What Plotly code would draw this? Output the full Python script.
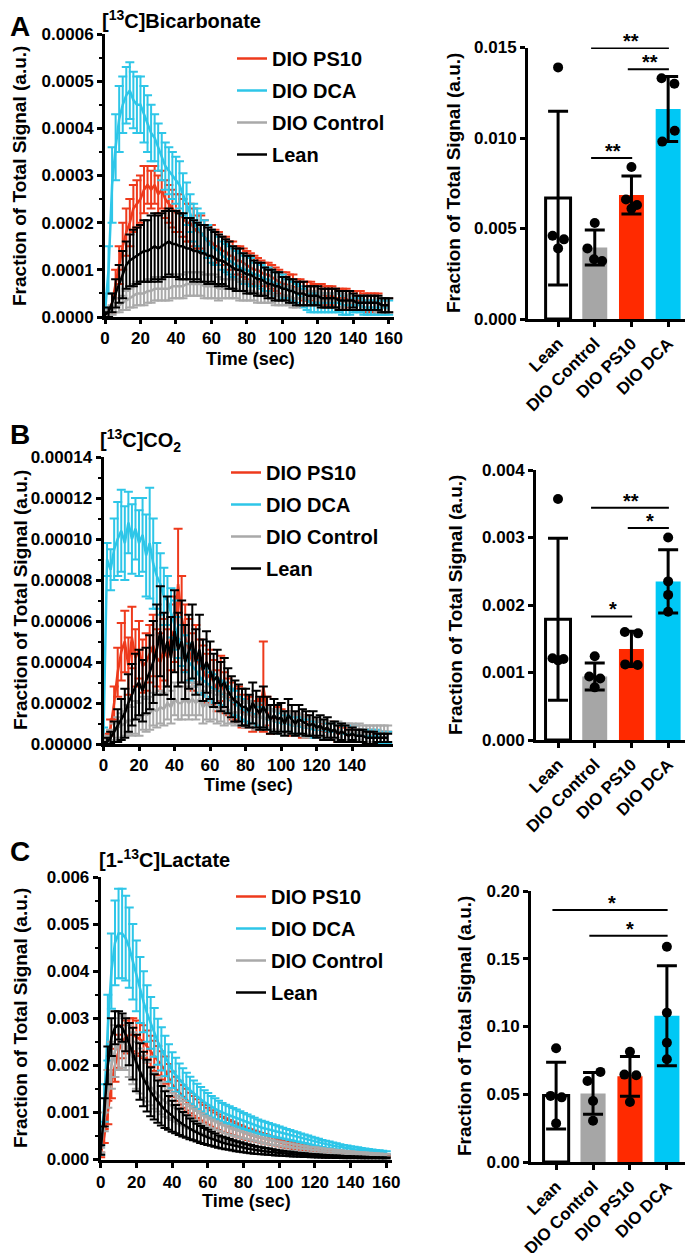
import plotly.graph_objects as go

# The page body has an 8 px margin, so the figure is sized to the visible area
# and layout positions (measured on the 693x1253 reference) are offset by it.
PAGE_W, PAGE_H, BODY = 693, 1253, 8
W, H = PAGE_W - BODY, PAGE_H - BODY
FONT = "Liberation Sans, Arial, Helvetica, sans-serif"

# ---------------- time-course data (t = 0..160 s, every 2 s) ----------------
time_s = list(range(0, 161, 2))

# Panel A: [13C]Bicarbonate, values in units of 1e-5
A_UNIT = 1e-5
bic_ps10 = [0.5,1,3,7,11,15,18,20,23,24, 25,27,28,27,28,26,27,25,24,23,
            22,22,21,20,20,19,18,18,17,16, 16,15,15,14,14,13,13,12,12,11.5,
            11,10.5,10,10,9.5,9,9,8.5,8,7.5, 7,7,6.5,6.5,6,6,5.5,5.5,5.5,5,
            5,5,4.5,4.5,4.5,4,4,4,4,3.5, 3.5,3.5,3.5,3,3,3,3,3,2.5,2.5, 2.5]
bic_ps10_err = [0.5,1,2,3,4,5,5,5,5,5, 5,5,4,4,4,4,4,4,4,4,
                4,4,4,4,4,4,3.5,3.5,3.5,3.5, 3.5,3.5,3,3,3,3,3,3,3,3,
                3,3,3,2.5,2.5,2.5,2.5,2.5,2.5,2.5, 2.5,2.5,2.5,2.5,2,2,2,2,2,2,
                2,2,2,2,2,2,2,2,2,2, 2,2,2,2,2,2,2,2,1.5,1.5, 1.5]
bic_dca = [1,10,28,36,42,45,47,48,46,45, 45,43,41,39,38,36,34,32,31,30,
           29,28,26,24,22,20,19,18,17,16, 15,14.5,14,13,12.5,12,11.5,11,10.5,10,
           10,9.5,9,9,8.5,8,8,7.5,7,7, 6.5,6,6,5.5,5,4.5,4,3.5,3,3,
           3,3,3,3,3,3,3,2.5,2.5,2.5, 2.5,2.5,2.5,2,2,2,2,2,2,2, 2]
bic_dca_err = [1,5,8,7,7,6,6,6,6,6, 6,6,6,6,5,5,5,5,5,5,
               5,5,4.5,4.5,4,4,4,4,3.5,3.5, 3.5,3.5,3,3,3,3,3,3,3,3,
               3,3,2.5,2.5,2.5,2.5,2.5,2.5,2.5,2.5, 2.5,2,2,2,2,2,2,2,2,2,
               2,2,2,2,2,2,2,2,2,2, 1.5,1.5,1.5,1.5,1.5,1.5,1.5,1.5,1.5,1.5, 1.5]
bic_ctrl = [0.5,1,1.5,2,2.5,3,3.5,4,4.5,5, 5,5,5.5,5.5,6,6,6,6,6,6.5,
            6.5,6.5,6.5,7,7,7,7,7,6.5,6.5, 6.5,6.5,6,6,6,6,6,6,5.5,5.5,
            5.5,5.5,5.5,5,5,5,5,5,4.5,4.5, 4.5,4.5,4.5,4,4,4,4,4,4,4,
            4,3.5,3.5,3.5,3.5,3.5,3.5,3.5,3,3, 3,3,3,3,3,3,3,2.5,2.5,2.5, 2.5]
bic_ctrl_err = [0.5,0.5,1,1,1.5,1.5,2,2,2.5,2.5, 2.5,2.5,2.5,2.5,2.5,2.5,2.5,2.5,2.5,2.5,
                2.5,2.5,2.5,2.5,2.5,2.5,2.5,2.5,2.5,2.5, 2.5,2.5,2.5,2,2,2,2,2,2,2,
                2,2,2,2,2,2,2,2,2,2, 2,2,2,2,2,1.5,1.5,1.5,1.5,1.5,
                1.5,1.5,1.5,1.5,1.5,1.5,1.5,1.5,1.5,1.5, 1.5,1.5,1.5,1.5,1.5,1.5,1.5,1.5,1.5,1.5, 1.5]
bic_lean = [0.5,1,3,5,7,9,11,12,12.5,13, 13.5,14,14,14.5,15,14.5,15,15.5,16,15.5,
            15.5,15,15,14.5,14.5,14,14,13.5,13.5,13, 13,12.5,12,12,11.5,11,10.5,10,10,9.5,
            9,9,8.5,8,8,7.5,7,7,6.5,6.5, 6,6,5.5,5.5,5,5,5,4.5,4.5,4.5,
            4.5,4,4,4,4,4,3.5,3.5,3.5,3.5, 3.5,3,3,3,3,3,3,3,2.5,2.5, 2.5]
bic_lean_err = [0.5,1,2,3,4,5,5,5.5,6,6, 6,6.5,6.5,7,7,7,7,7,7,7,
                7,7,7,6.5,6.5,6.5,6,6,6,6, 5.5,5.5,5.5,5,5,5,4.5,4.5,4.5,4,
                4,4,3.5,3.5,3.5,3,3,3,3,3, 2.5,2.5,2.5,2.5,2.5,2.5,2.5,2,2,2,
                2,2,2,2,2,2,2,2,2,2, 1.5,1.5,1.5,1.5,1.5,1.5,1.5,1.5,1.5,1.5, 1.5]

# Panel B: [13C]CO2, values in units of 1e-6
B_UNIT = 1e-6
co2_ps10 = [2,3,8,20,35,45,50,38,52,42, 46,38,40,44,48,42,40,46,42,52,
            56,78,62,52,46,40,44,38,36,32, 34,30,26,32,25,23,21,19,20,16,
            15,16,13,14,15,28,16,11,13,12, 11,10,11,9,10,9,8,9,7,8,
            7,7,6,6,7,6,5,5,5,4, 5,4,4,4,4,4,3,3,3,3, 3]
co2_ps10_err = [1,2,4,8,12,14,15,14,15,14, 14,13,14,14,15,14,14,15,14,16,
                16,27,20,16,15,14,14,13,12,12, 12,11,10,11,10,9,9,8,8,8,
                7,7,7,7,7,22,7,6,6,6, 6,5,5,5,5,5,5,5,4,4,
                4,4,4,4,4,4,4,3,3,3, 3,3,3,3,3,3,3,3,3,3, 3]
co2_dca = [5,90,85,95,100,104,98,108,100,105, 98,102,92,98,88,82,78,72,70,64,
           58,52,48,44,40,38,36,33,31,30, 28,27,26,25,24,22,21,20,18,17,
           16,15,15,14,13,13,12,12,11,11, 10,10,10,9,9,9,8,8,8,7,
           7,7,7,6,6,6,6,5,5,5, 5,5,4,4,4,4,4,4,3,3, 3]
co2_dca_err = [3,8,10,15,18,20,18,15,17,15, 16,18,20,27,22,16,15,14,12,12,
               12,10,10,9,9,8,8,8,7,7, 7,7,6,6,6,6,6,6,5,5,
               5,5,5,5,5,5,5,5,5,5, 5,4,4,4,4,4,4,4,4,4,
               4,4,4,4,4,4,4,4,4,4, 4,4,3,3,3,3,3,3,3,3, 3]
co2_ctrl = [1,2,4,6,8,9,10,12,11,13, 12,15,14,15,17,16,18,17,20,18,
            22,20,20,22,20,22,20,22,18,20, 18,19,17,18,16,17,16,15,16,15,
            14,15,14,13,14,12,13,12,11,12, 11,10,11,10,9,10,9,8,9,8,
            8,7,8,7,7,6,7,6,6,6, 6,5,6,5,5,5,5,5,5,5, 5]
co2_ctrl_err = [1,2,3,4,5,6,6,7,7,8, 8,8,8,8,8,8,8,8,8,8,
                8,8,8,8,8,8,8,8,8,8, 7,7,7,7,7,7,6,6,6,6,
                6,6,6,6,6,5,5,5,5,5, 5,5,5,5,5,5,5,5,4,4,
                4,4,4,4,4,4,4,4,4,4, 4,4,4,4,4,4,4,4,4,4, 4]
co2_lean = [0,1,3,6,9,12,15,20,24,28, 30,26,31,35,40,46,55,44,50,42,
            55,46,50,40,45,50,40,46,36,40, 36,31,33,28,30,26,23,21,20,18,
            18,16,20,17,15,18,15,12,14,12, 13,10,14,12,10,12,11,10,9,10,
            8,9,7,8,6,7,5,6,5,4, 5,4,4,4,3,3,3,3,3,3, 3]
co2_lean_err = [1,2,3,5,8,10,12,14,15,16, 16,15,16,18,20,22,22,20,22,20,
                20,18,20,18,18,18,16,17,15,15, 14,13,13,12,12,11,10,10,9,9,
                9,8,10,9,8,10,8,7,8,7, 7,6,8,7,6,7,6,6,5,6,
                5,5,5,5,4,4,4,4,4,3, 3,3,3,3,3,3,3,2,2,2, 2]

# Panel C: [1-13C]Lactate, values in units of 1e-4
C_UNIT = 1e-4
lac_ps10 = [1,5,10,16,20,23,25,26,26.5,26.5, 26,25.5,25,24,23,22,21,20,19,17.5,
            16,15,14.2,13.4,12.7,12,11.4,10.8,10.2,9.7, 9.2,8.7,8.3,7.9,7.5,7.2,6.9,6.6,6.3,6,
            5.7,5.4,5.2,5,4.8,4.6,4.4,4.2,4,3.8, 3.6,3.4,3.25,3.1,2.95,2.8,2.65,2.5,2.35,2.2,
            2.1,2,1.9,1.8,1.7,1.6,1.5,1.42,1.35,1.28, 1.2,1.14,1.08,1.02,0.97,0.92,0.88,0.84,0.8,0.77, 0.74]
lac_ps10_err = [0.5,1.5,2.5,3,3.5,3.5,3.5,3.5,3.5,3.5, 3.5,3.5,3.5,3.4,3.3,3.2,3.1,3,2.9,2.8,
                2.7,2.6,2.5,2.4,2.3,2.2,2.1,2,1.9,1.85, 1.8,1.75,1.7,1.65,1.6,1.55,1.5,1.45,1.4,1.35,
                1.3,1.25,1.2,1.15,1.1,1.05,1,0.95,0.9,0.85, 0.8,0.78,0.75,0.72,0.7,0.67,0.64,0.6,0.57,0.54,
                0.5,0.48,0.46,0.44,0.42,0.4,0.38,0.36,0.34,0.32, 0.3,0.29,0.28,0.27,0.26,0.25,0.24,0.23,0.22,0.21, 0.2]
lac_dca = [2,12,28,40,46,48,48,47,45,42, 39,36,33.5,31,29,27,25,23.5,22,20.5,
           19,18,17,16.2,15.4,14.7,14,13.4,12.8,12.2, 11.7,11.2,10.8,10.4,10,9.7,9.4,9.1,8.8,8.5,
           8.2,7.9,7.6,7.3,7,6.8,6.6,6.4,6.2,6, 5.8,5.6,5.4,5.2,5,4.8,4.6,4.4,4.2,4,
           3.8,3.6,3.4,3.25,3.1,2.95,2.8,2.65,2.5,2.4, 2.3,2.2,2.1,2,1.9,1.8,1.7,1.65,1.6,1.5, 1.45]
lac_dca_err = [1,4,7,8,9,9.5,9.5,9,8.5,8, 7.5,7,6.5,6,5.5,5.2,4.9,4.6,4.3,4,
               3.8,3.6,3.4,3.2,3,2.9,2.8,2.7,2.6,2.5, 2.4,2.3,2.2,2.1,2,1.95,1.9,1.85,1.8,1.75,
               1.7,1.65,1.6,1.55,1.5,1.45,1.4,1.35,1.3,1.25, 1.2,1.15,1.1,1.05,1,0.97,0.94,0.91,0.88,0.85,
               0.82,0.79,0.76,0.73,0.7,0.67,0.64,0.61,0.58,0.55, 0.52,0.5,0.48,0.46,0.44,0.42,0.4,0.38,0.36,0.34, 0.32]
lac_ctrl = [2,8,15,20,23,24.5,25,24.5,23,21.5, 20,18.8,17.6,16.5,15.5,14.6,13.8,13,12.3,11.8,
            11.3,10.8,10.3,9.8,9.3,8.9,8.5,8.1,7.7,7.3, 7,6.7,6.4,6.1,5.8,5.6,5.3,5.1,4.9,4.7,
            4.5,4.3,4.1,3.9,3.75,3.6,3.45,3.3,3.15,3, 2.9,2.8,2.7,2.6,2.5,2.4,2.3,2.2,2.1,2.05,
            2,1.92,1.85,1.78,1.71,1.64,1.58,1.52,1.46,1.4, 1.35,1.3,1.25,1.2,1.15,1.1,1.06,1.02,0.98,0.94, 0.9]
lac_ctrl_err = [0.5,2,4,5,5.5,5.5,5.5,5.5,5.5,5.5, 5,4.8,4.5,4.2,4,3.8,3.6,3.4,3.2,3,
                2.9,2.8,2.7,2.6,2.5,2.4,2.3,2.2,2.1,2, 1.9,1.8,1.75,1.7,1.6,1.55,1.5,1.45,1.4,1.35,
                1.3,1.25,1.2,1.15,1.1,1.05,1,0.97,0.94,0.9, 0.87,0.84,0.81,0.78,0.75,0.72,0.69,0.66,0.63,0.6,
                0.58,0.56,0.54,0.52,0.5,0.48,0.46,0.44,0.42,0.4, 0.38,0.36,0.35,0.34,0.33,0.32,0.31,0.3,0.29,0.28, 0.27]
lac_lean = [2,10,20,26,28,28.5,28,26.5,24.5,22.5, 20.5,18.7,17.1,15.7,14.4,13.3,12.3,11.4,10.6,9.9,
            9.2,8.6,8,7.5,7,6.5,6.1,5.7,5.3,5, 4.7,4.4,4.1,3.8,3.6,3.4,3.2,3,2.8,2.65,
            2.5,2.35,2.2,2.05,1.95,1.85,1.75,1.65,1.55,1.45, 1.38,1.3,1.23,1.16,1.1,1.04,0.98,0.93,0.88,0.83,
            0.79,0.75,0.71,0.67,0.64,0.61,0.58,0.55,0.52,0.5, 0.47,0.45,0.43,0.41,0.39,0.37,0.35,0.34,0.32,0.31, 0.3]
lac_lean_err = [1,3,4,4,3.5,3,3,3.5,4.5,5.5, 6,6,5.8,5.5,5.2,4.8,4.5,4.2,3.9,3.6,
                3.3,3,2.8,2.6,2.4,2.2,2,1.9,1.8,1.7, 1.6,1.5,1.4,1.3,1.25,1.2,1.15,1.1,1.05,1,
                0.95,0.9,0.86,0.82,0.78,0.74,0.7,0.66,0.62,0.58, 0.55,0.52,0.49,0.46,0.44,0.42,0.4,0.38,0.36,0.34,
                0.32,0.3,0.29,0.28,0.27,0.26,0.25,0.24,0.23,0.22, 0.21,0.2,0.19,0.18,0.17,0.16,0.15,0.14,0.13,0.12, 0.12]

# ---------------- bar-chart data ----------------
groups = ["Lean", "DIO Control", "DIO PS10", "DIO DCA"]

bic_bar_mean = [0.00668, 0.00395, 0.00685, 0.0116]
bic_bar_sd = [0.0048, 0.00097, 0.00105, 0.0018]
bic_points = [[0.0139, 0.0046, 0.0044, 0.0039],
              [0.0053, 0.0039, 0.0033, 0.0032],
              [0.0084, 0.0066, 0.0063, 0.0061],
              [0.0133, 0.0130, 0.0104, 0.0098]]

co2_bar_mean = [0.00179, 0.00094, 0.00135, 0.00235]
co2_bar_sd = [0.0012, 0.0002, 0.00026, 0.00047]
co2_points = [[0.00357, 0.00121, 0.00120, 0.00118],
              [0.00124, 0.00094, 0.00091, 0.00078],
              [0.00160, 0.00158, 0.00112, 0.00111],
              [0.00300, 0.00235, 0.00215, 0.00190]]

lac_bar_mean = [0.049, 0.0506, 0.0632, 0.108]
lac_bar_sd = [0.0246, 0.0154, 0.0146, 0.0369]
lac_points = [[0.0839, 0.0488, 0.0477, 0.0285],
              [0.0665, 0.0598, 0.0450, 0.0305],
              [0.0814, 0.0645, 0.0640, 0.0443],
              [0.1589, 0.1102, 0.0880, 0.0758]]

# significance comparisons: (group i, group j, label)
bic_sig = [(1, 3, "**"), (2, 3, "**"), (1, 2, "**")]
co2_sig = [(1, 3, "**"), (2, 3, "*"), (1, 2, "*")]
lac_sig = [(0, 3, "*"), (1, 3, "*")]

# ---------------- styling ----------------
series_order = ["DIO PS10", "DIO DCA", "DIO Control", "Lean"]
line_colors = {"DIO PS10": "#EE3A1C", "DIO DCA": "#2EC6E8",
               "DIO Control": "#A9A9A9", "Lean": "#000000"}
bar_fill = ["#FFFFFF", "#A6A6A6", "#FF2A00", "#00C8F5"]
bar_edge = ["#000000", "#A6A6A6", "#FF2A00", "#00C8F5"]
bar_edge_w = [3, 0, 0, 0]

def fx(p):
    return (p - BODY) / W

def fy(p):
    return 1 - (p - BODY) / H

fig = go.Figure()

def add_timecourse(xa, ya, legend, data, unit, panel):
    for name in series_order:
        mean, err = data[name]
        fig.add_trace(go.Scatter(
            x=time_s, y=[v * unit for v in mean],
            error_y=dict(type="data", array=[e * unit for e in err],
                         color=line_colors[name], thickness=2, width=4.5),
            mode="lines", line=dict(color=line_colors[name], width=2.5),
            name=name, legendgroup=panel + name, legend=legend,
            xaxis=xa, yaxis=ya))

def add_bars(xa, ya, means, sds, points, jitter):
    fig.add_trace(go.Bar(
        x=list(range(len(groups))), y=means, width=0.68,
        marker=dict(color=bar_fill, line=dict(color=bar_edge, width=bar_edge_w)),
        error_y=dict(type="data", array=sds, color="black", thickness=3, width=10),
        xaxis=xa, yaxis=ya, showlegend=False))
    xs, ys = [], []
    for i, (vals, offs) in enumerate(zip(points, jitter)):
        for v, o in zip(vals, offs):
            xs.append(i + o)
            ys.append(v)
    fig.add_trace(go.Scatter(x=xs, y=ys, mode="markers",
                             marker=dict(color="black", size=10),
                             xaxis=xa, yaxis=ya, showlegend=False, cliponaxis=False))

def add_sig(xa, ya, comps, levels):
    for (i, j, label), lev in zip(comps, levels):
        fig.add_shape(type="line", xref=xa, yref=ya, x0=i - 0.1, x1=j + 0.02,
                      y0=lev, y1=lev, line=dict(color="black", width=2))
        fig.add_annotation(xref=xa, yref=ya, x=(i + j) / 2, y=lev, text=label,
                           showarrow=False, yanchor="middle", yshift=7,
                           font=dict(size=20, family=FONT, color="black", weight="bold"))

add_timecourse("x", "y", "legend", {
    "DIO PS10": (bic_ps10, bic_ps10_err), "DIO DCA": (bic_dca, bic_dca_err),
    "DIO Control": (bic_ctrl, bic_ctrl_err), "Lean": (bic_lean, bic_lean_err)}, A_UNIT, "A")
add_timecourse("x3", "y3", "legend2", {
    "DIO PS10": (co2_ps10, co2_ps10_err), "DIO DCA": (co2_dca, co2_dca_err),
    "DIO Control": (co2_ctrl, co2_ctrl_err), "Lean": (co2_lean, co2_lean_err)}, B_UNIT, "B")
add_timecourse("x5", "y5", "legend3", {
    "DIO PS10": (lac_ps10, lac_ps10_err), "DIO DCA": (lac_dca, lac_dca_err),
    "DIO Control": (lac_ctrl, lac_ctrl_err), "Lean": (lac_lean, lac_lean_err)}, C_UNIT, "C")

add_bars("x2", "y2", bic_bar_mean, bic_bar_sd, bic_points,
         [[0, -0.15, 0.16, 0], [0, -0.2, -0.02, 0.2], [0, -0.15, 0.15, 0], [-0.18, 0.17, 0.18, -0.16]])
add_bars("x4", "y4", co2_bar_mean, co2_bar_sd, co2_points,
         [[0, -0.15, 0.15, 0], [0, -0.15, 0.15, 0], [-0.18, 0.18, -0.17, 0.17], [0, 0, 0, 0]])
add_bars("x6", "y6", lac_bar_mean, lac_bar_sd, lac_points,
         [[0, -0.15, 0.15, 0], [0.2, -0.15, 0, 0], [0, -0.15, 0.17, 0], [0, 0, 0, 0]])

add_sig("x2", "y2", bic_sig, [0.01497, 0.0138, 0.0089])
add_sig("x4", "y4", co2_sig, [0.00344, 0.00314, 0.00183])
add_sig("x6", "y6", lac_sig, [0.186, 0.167])

# ---------------- axes ----------------
tickfont = dict(size=17, family=FONT, color="black", weight="bold")

def axis(**kw):
    base = dict(showline=True, linecolor="black", linewidth=3, ticks="outside",
                ticklen=5, tickwidth=2.5, tickcolor="black", showgrid=False,
                zeroline=False, tickfont=tickfont, fixedrange=True, automargin=False)
    base.update(kw)
    return base

def minor(d):
    return dict(dtick=d, ticks="outside", ticklen=3, tickwidth=2, tickcolor="black", showgrid=False)

time_ticks = [0, 20, 40, 60, 80, 100, 120, 140, 160]

layout_axes = dict(
    xaxis=axis(domain=[fx(105), fx(394)], range=[0, 163], anchor="y", ticklen=4,
               tickmode="array", tickvals=time_ticks),
    yaxis=axis(domain=[fy(317), fy(34)], range=[0, 0.0006], anchor="x",
               tickmode="linear", tick0=0, dtick=0.0001, tickformat=".4f", minor=minor(0.00005)),
    xaxis2=axis(domain=[fx(528), fx(692)], range=[-0.82, 3.65], anchor="y2",
                tickmode="array", tickvals=[0, 1, 2, 3], ticktext=groups, tickangle=-45),
    yaxis2=axis(domain=[fy(319), fy(47.5)], range=[0, 0.015], anchor="x2",
                tickmode="linear", tick0=0, dtick=0.005, tickformat=".3f"),
    xaxis3=axis(domain=[fx(103.5), fx(393)], range=[0, 163], anchor="y3", ticklen=4,
                tickmode="array", tickvals=time_ticks[:-1]),
    yaxis3=axis(domain=[fy(744), fy(457)], range=[0, 0.00014], anchor="x3",
                tickmode="linear", tick0=0, dtick=0.00002, tickformat=".5f", minor=minor(0.00001)),
    xaxis4=axis(domain=[fx(536), fx(692)], range=[-0.6, 3.65], anchor="y4",
                tickmode="array", tickvals=[0, 1, 2, 3], ticktext=groups, tickangle=-45),
    yaxis4=axis(domain=[fy(740), fy(470)], range=[0, 0.004], anchor="x4",
                tickmode="linear", tick0=0, dtick=0.001, tickformat=".3f"),
    xaxis5=axis(domain=[fx(100.7), fx(391.6)], range=[0, 163], anchor="y5",
                tickmode="array", tickvals=time_ticks),
    yaxis5=axis(domain=[fy(1159.5), fy(877)], range=[0, 0.006], anchor="x5",
                tickmode="linear", tick0=0, dtick=0.001, tickformat=".3f", minor=minor(0.0005)),
    xaxis6=axis(domain=[fx(531), fx(692)], range=[-0.68, 3.68], anchor="y6",
                tickmode="array", tickvals=[0, 1, 2, 3], ticktext=groups, tickangle=-45),
    yaxis6=axis(domain=[fy(1162), fy(891)], range=[0, 0.2], anchor="x6",
                tickmode="linear", tick0=0, dtick=0.05, tickformat=".2f"),
)

def legend_at(left, top):
    return dict(x=fx(left), y=fy(top), xanchor="left", yanchor="top",
                font=dict(size=20, family=FONT, color="black", weight="bold"),
                bgcolor="rgba(0,0,0,0)", borderwidth=0, itemwidth=30,
                traceorder="grouped", tracegroupgap=3, itemclick=False, itemdoubleclick=False)

# ---------------- text annotations ----------------
def text(x, y, s, size, xanchor="center", yanchor="middle", angle=0):
    fig.add_annotation(xref="paper", yref="paper", x=fx(x), y=fy(y), text=s,
                       showarrow=False, xanchor=xanchor, yanchor=yanchor, textangle=angle,
                       borderpad=0,
                       font=dict(size=size, family=FONT, color="black", weight="bold"))

YT = "Fraction of Total Signal (a.u.)"
for (lx, ly, letter) in [(20, 26, "A"), (20, 434, "B"), (20, 851, "C")]:
    text(lx, ly, letter, 28)
text(101, 20, "[<sup>13</sup>C]Bicarbonate", 20, xanchor="left")
text(99, 441, "[<sup>13</sup>C]CO<sub>2</sub>", 20, xanchor="left")
text(98, 858, "[1-<sup>13</sup>C]Lactate", 20, xanchor="left")

text(20, 176, YT, 19, angle=-90)
text(454, 183, YT, 19, angle=-90)
text(20, 600, YT, 19, angle=-90)
text(456, 605, YT, 19, angle=-90)
text(20, 1018, YT, 19, angle=-90)
text(464, 1026, YT, 19, angle=-90)

text(250, 359, "Time (sec)", 18)
text(248, 785, "Time (sec)", 18)
text(246, 1201, "Time (sec)", 18)

fig.update_layout(
    width=W, height=H,
    margin=dict(l=0, r=0, t=0, b=0, pad=0, autoexpand=False),
    paper_bgcolor="white", plot_bgcolor="white",
    font=dict(family=FONT, size=17, color="black", weight="bold"),
    bargap=0.3,
    legend=legend_at(232, 39),
    legend2=legend_at(226, 453),
    legend3=legend_at(231, 877),
    **layout_axes,
)

fig.write_html("out.html")
